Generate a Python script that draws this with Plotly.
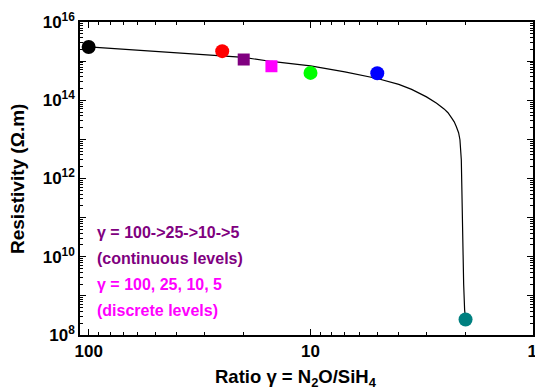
import plotly.graph_objects as go
import numpy as np

# Measured points
pt_gamma = [100, 25, 20, 15, 10, 5, 2]
pt_rho = [2.3e15, 1.8e15, 1.1e15, 7.4e14, 5.0e14, 4.9e14, 2.5e8]
pt_colors = ["#000000", "#ff0000", "#800080", "#ff00ff", "#00ff00", "#0000ff", "#008080"]
pt_symbols = ["circle", "circle", "square", "square", "circle", "circle", "circle"]

# Fitted curve
curve_gamma = [100, 50, 25, 20, 15, 10, 7, 5, 4, 3.5, 3, 2.7, 2.5, 2.4, 2.3, 2.25, 2.2,
               2.15, 2.12, 2.1, 2.09, 2.08, 2.07, 2.06, 2.04, 2.02, 2.0]
curve_rho = [2.3e15, 1.76e15, 1.4e15, 1.24e15, 9.8e14, 7.55e14, 5.3e14, 3.6e14, 2.55e14,
             1.9e14, 1.22e14, 8.4e13, 6.0e13, 4.8e13, 3.4e13, 2.8e13, 2.1e13,
             1.48e13, 9.8e12, 5.4e12, 3e12, 7e11, 1.2e11, 1.5e10, 2e9, 4.5e8, 2.5e8]

x_ticks = [100, 10, 1]
x_ticklabels = ["100", "10", "1"]
y_ticks = [1e8, 1e9, 1e10, 1e11, 1e12, 1e13, 1e14, 1e15, 1e16]
y_ticklabels = ["10<sup>8</sup>", "", "10<sup>10</sup>", "", "10<sup>12</sup>", "",
                "10<sup>14</sup>", "", "10<sup>16</sup>"]

legend_lines = ["γ = 100->25->10->5", "(continuous levels)", "γ = 100, 25, 10, 5", "(discrete levels)"]
legend_colors = ["#800080", "#800080", "#ff00ff", "#ff00ff"]

x_title = "Ratio γ = N<sub>2</sub>O/SiH<sub>4</sub>"
y_title = "Resistivity (Ω.m)"

x_minor = [m * d for d in [1, 10] for m in range(2, 10)]
y_minor = [m * 10.0**e for e in range(8, 16) for m in range(2, 10)]

fig = go.Figure()
fig.add_trace(go.Scatter(x=curve_gamma, y=curve_rho, mode="lines",
                         line=dict(color="black", width=1.2), showlegend=False))
for g, r, c, s in zip(pt_gamma, pt_rho, pt_colors, pt_symbols):
    fig.add_trace(go.Scatter(x=[g], y=[r], mode="markers",
                             marker=dict(color=c, symbol=s, size=14 if s == "circle" else 12,
                                         line=dict(width=0)),
                             showlegend=False))

font = "Liberation Sans, Arial, sans-serif"
axis_common = dict(type="log", showline=True, linecolor="black", linewidth=1.5, mirror="ticks",
                   ticks="inside", ticklen=6, tickwidth=1.2, tickcolor="black",
                   showgrid=False, zeroline=False, ticklabeloverflow="allow", automargin=False,
                   tickfont=dict(family=font, size=17, color="black", weight="bold"))

fig.update_xaxes(**axis_common, range=[np.log10(109.4), -0.003], tickmode="array",
                 tickvals=x_ticks, ticktext=x_ticklabels,
                 minor=dict(tickvals=x_minor, ticklen=3, tickwidth=1, tickcolor="black", ticks="inside", showgrid=False))
fig.update_yaxes(**axis_common, range=[8, 16], tickmode="array",
                 tickvals=y_ticks, ticktext=y_ticklabels,
                 minor=dict(tickvals=y_minor, ticklen=3, tickwidth=1, tickcolor="black", ticks="inside", showgrid=False))

ys = [0.326, 0.246, 0.160, 0.077]
for t, c, yy in zip(legend_lines, legend_colors, ys):
    fig.add_annotation(text=t, xref="paper", yref="paper", x=0.033, y=yy,
                       xanchor="left", yanchor="middle", showarrow=False,
                       font=dict(family=font, size=16, color=c, weight="bold"))

# axis titles
fig.add_annotation(text=x_title, xref="paper", yref="paper", x=0.477, y=-0.138,
                   xanchor="center", yanchor="middle", showarrow=False,
                   font=dict(family=font, size=18.5, color="black", weight="bold"))
fig.add_annotation(text=y_title, xref="paper", yref="paper", x=-0.138, y=0.5,
                   xanchor="center", yanchor="middle", showarrow=False, textangle=-90,
                   font=dict(family=font, size=19, color="black", weight="bold"))

fig.update_layout(width=535, height=392, margin=dict(l=80, r=2, t=22, b=57, autoexpand=False),
                  paper_bgcolor="white", plot_bgcolor="white")
fig.write_html("out.html")
